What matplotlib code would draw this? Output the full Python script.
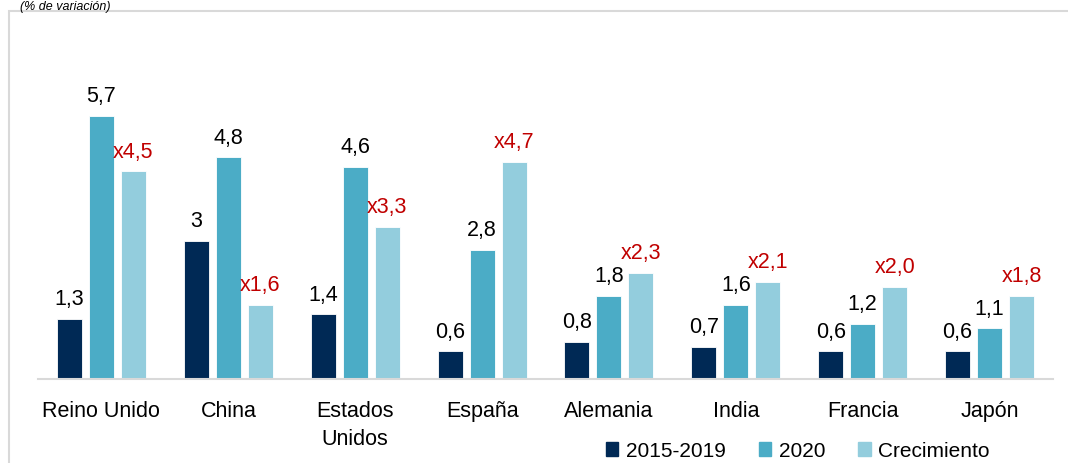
import numpy as np
import matplotlib
matplotlib.use("Agg")
import matplotlib.pyplot as plt
from matplotlib.patches import Patch, Rectangle

plt.rcParams['font.family'] = ['Liberation Sans', 'DejaVu Sans']

paises = ["Reino Unido", "China", "Estados\nUnidos", "España", "Alemania", "India", "Francia", "Japón"]
p2015_2019 = [1.3, 3, 1.4, 0.6, 0.8, 0.7, 0.6, 0.6]
p2020 = [5.7, 4.8, 4.6, 2.8, 1.8, 1.6, 1.2, 1.1]
crecimiento = [4.5, 1.6, 3.3, 4.7, 2.3, 2.1, 2.0, 1.8]

c_dark = "#002955"
c_mid = "#4BACC6"
c_light = "#93CDDD"
c_red = "#C00000"

fig = plt.figure(figsize=(10.68, 4.64), dpi=100)
ax = fig.add_axes([38 / 1068, 84 / 464, 1015 / 1068, 300 / 464])

x = np.arange(len(paises))
w = 0.197
off = 0.252

b1 = ax.bar(x - off, p2015_2019, w, color=c_dark, edgecolor="white", linewidth=0.6)
b2 = ax.bar(x, p2020, w, color=c_mid, edgecolor="white", linewidth=0.6)
b3 = ax.bar(x + off, crecimiento, w, color=c_light, edgecolor="white", linewidth=0.6)

def fmt(v):
    return ("%g" % v).replace(".", ",")

for bars, vals in [(b1, p2015_2019), (b2, p2020)]:
    for b, v in zip(bars, vals):
        ax.annotate(fmt(v), (b.get_x() + b.get_width() / 2, v), xytext=(0, 7),
                    textcoords="offset points", ha="center", va="bottom", fontsize=15.5, color="black")
for b, v in zip(b3, crecimiento):
    ax.annotate("x" + ("%.1f" % v).replace(".", ","), (b.get_x() + b.get_width() / 2, v), xytext=(0, 7),
                textcoords="offset points", ha="center", va="bottom", fontsize=15.5, color=c_red)

ax.set_xlim(-0.5, len(paises) - 0.5)
ax.set_ylim(0, 6.5)
ax.set_yticks([])
ax.set_xticks(x)
ax.set_xticklabels(paises, fontsize=15.5, linespacing=1.45)
ax.tick_params(axis="x", length=0, pad=15)
for s in ["top", "right", "left"]:
    ax.spines[s].set_visible(False)
ax.spines["bottom"].set_color("#D9D9D9")
ax.spines["bottom"].set_linewidth(1.5)

handles = [Patch(color=c_dark), Patch(color=c_mid), Patch(color=c_light)]
fig.legend(handles, ["2015-2019", "2020", "Crecimiento"], loc="center", bbox_to_anchor=(0.747, 0.026),
           ncol=3, frameon=False, fontsize=15, handlelength=0.6, handleheight=0.6,
           handletextpad=0.35, columnspacing=1.6)

fig.patches.append(Rectangle((8.5 / 1068, -0.1), 1.2, 1.1 - 12 / 464, transform=fig.transFigure,
                             fill=False, edgecolor="#D9D9D9", linewidth=1.5))
fig.text(110 / 1068, 1 - 1 / 464, "(% de variación)", ha="right", va="top",
         fontsize=9, style="italic", color="black")

fig.savefig("out.png", dpi=100)
